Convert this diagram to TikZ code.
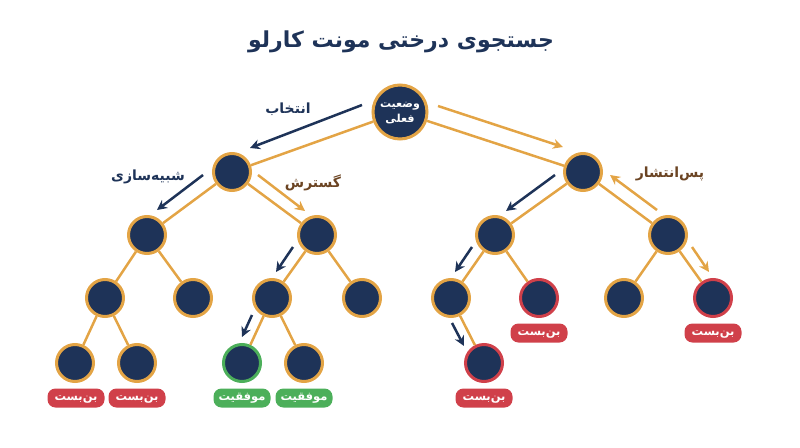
\documentclass[tikz,border=0pt]{standalone}
\usepackage{fontspec}
\setmainfont{DejaVu Sans}
\newfontfamily\farsi[Script=Arabic]{DejaVu Sans}
\TeXXeTstate=1
\usepackage{xcolor}
\usetikzlibrary{arrows.meta}
\definecolor{navy}{HTML}{1E3358}
\definecolor{gold}{HTML}{E3A445}
\definecolor{deadred}{HTML}{D0404A}
\definecolor{wingreen}{HTML}{4CAF5A}
\definecolor{darkbrown}{HTML}{6B4423}

\tikzset{
  state/.style={circle,fill=navy,draw=gold,line width=3pt,minimum size=37pt,inner sep=0pt},
  lost/.style={state,draw=deadred},
  won/.style={state,draw=wingreen},
  edge/.style={gold,line width=2.5pt},
  navyarrow/.style={navy,line width=2.5pt,-{Stealth[length=10pt,width=10pt]}},
  goldarrow/.style={gold,line width=2.5pt,-{Stealth[length=10pt,width=10pt]}},
  tag/.style={rounded corners=8pt,fill=deadred,text=white,font=\farsi\bfseries\fontsize{11.5}{13}\selectfont,minimum width=57pt,minimum height=19pt,inner sep=0pt,text height=8.5pt,text depth=3pt},
  wintag/.style={tag,fill=wingreen},
  steplabel/.style={font=\farsi\bfseries\fontsize{14}{16}\selectfont}
}

\begin{document}
\begin{tikzpicture}[x=1pt,y=-1pt]
\useasboundingbox (0,0) rectangle (800,447);

% Title
\node[font=\farsi\bfseries\fontsize{22}{26}\selectfont,text=navy] (title) at (401,42) {\beginR جستجوی درختی مونت کارلو\endR};

% Root
\node[state,minimum size=54pt] (root) at (400,112) {};
\node[font=\farsi\bfseries\fontsize{11}{15}\selectfont,text=white,align=center] (roottext) at (400,113) {\beginR وضعیت\endR\\\beginR فعلی\endR};

% Left subtree
\node[state] (L) at (232,172) {};
\node[state] (LL) at (147,235) {};
\node[state] (LR) at (317,235) {};
\node[state] (LLL) at (105,298) {};
\node[state] (LLR) at (193,298) {};
\node[state] (LRL) at (272,298) {};
\node[state] (LRR) at (362,298) {};
\node[state] (LLLL) at (75,363) {};
\node[state] (LLLR) at (137,363) {};
\node[won] (LRLL) at (242,363) {};
\node[state] (LRLR) at (304,363) {};

% Right subtree
\node[state] (R) at (583,172) {};
\node[state] (RL) at (495,235) {};
\node[state] (RR) at (668,235) {};
\node[state] (RLL) at (451,298) {};
\node[lost] (RLR) at (539,298) {};
\node[state] (RRL) at (624,298) {};
\node[lost] (RRR) at (713,298) {};
\node[lost] (RLLR) at (484,363) {};

% Tree edges
\foreach \a/\b in {root/L,root/R,L/LL,L/LR,LL/LLL,LL/LLR,LR/LRL,LR/LRR,LLL/LLLL,LLL/LLLR,LRL/LRLL,LRL/LRLR,R/RL,R/RR,RL/RLL,RL/RLR,RR/RRL,RR/RRR,RLL/RLLR}
  \draw[edge] (\a) -- (\b);

% Outcome tags
\node[tag] (dead1) at (76,398) {\beginR بن‌بست\endR};
\node[tag] (dead2) at (137,398) {\beginR بن‌بست\endR};
\node[wintag] (win1) at (242,398) {\beginR موفقیت\endR};
\node[wintag] (win2) at (304,398) {\beginR موفقیت\endR};
\node[tag] (dead3) at (539,333) {\beginR بن‌بست\endR};
\node[tag] (dead4) at (713,333) {\beginR بن‌بست\endR};
\node[tag] (dead5) at (484,398) {\beginR بن‌بست\endR};

% Arrow ends
\coordinate (selA) at (362,105); \coordinate (selB) at (250,148);
\coordinate (expA) at (438,106); \coordinate (expB) at (563,147);
\coordinate (simA) at (203,175); \coordinate (simB) at (157,210);
\coordinate (grwA) at (258,175); \coordinate (grwB) at (305,211);
\coordinate (p1A) at (293,247); \coordinate (p1B) at (276,272);
\coordinate (p2A) at (252,315); \coordinate (p2B) at (242,337);
\coordinate (p3A) at (555,175); \coordinate (p3B) at (506,211);
\coordinate (p4A) at (472,247); \coordinate (p4B) at (455,272);
\coordinate (p5A) at (452,323); \coordinate (p5B) at (464,346);
\coordinate (bckA) at (657,210); \coordinate (bckB) at (610,175);
\coordinate (p6A) at (692,247); \coordinate (p6B) at (709,272);

% Step arrows
\draw[navyarrow] (selA) -- (selB);
\draw[goldarrow] (expA) -- (expB);
\draw[navyarrow] (simA) -- (simB);
\draw[goldarrow] (grwA) -- (grwB);
\draw[navyarrow] (p1A) -- (p1B);
\draw[navyarrow] (p2A) -- (p2B);
\draw[navyarrow] (p3A) -- (p3B);
\draw[navyarrow] (p4A) -- (p4B);
\draw[navyarrow] (p5A) -- (p5B);
\draw[goldarrow] (bckA) -- (bckB);
\draw[goldarrow] (p6A) -- (p6B);

% Step labels
\node[steplabel,text=navy] (select) at (288,109) {\beginR انتخاب\endR};
\node[steplabel,text=navy] (simulate) at (148,177) {\beginR شبیه‌سازی\endR};
\node[steplabel,text=darkbrown] (expand) at (313,183) {\beginR گسترش\endR};
\node[steplabel,text=darkbrown] (backprop) at (670,174) {\beginR پس‌انتشار\endR};
\end{tikzpicture}
\end{document}
